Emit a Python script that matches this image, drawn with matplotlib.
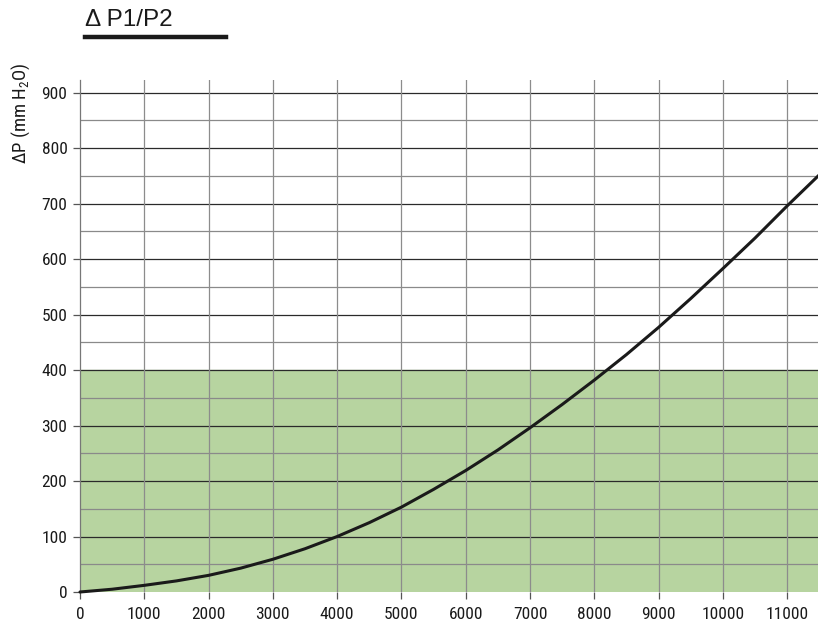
import matplotlib
matplotlib.use("Agg")
import matplotlib.pyplot as plt

# Datos
caudal = [0, 500, 1000, 1500, 2000, 2500, 3000, 3500, 4000, 4500, 5000, 5500, 6000,
          6500, 7000, 7500, 8000, 8500, 9000, 9500, 10000, 10500, 11000, 11500]
delta_p = [0, 5, 12, 20, 30, 43, 59, 78, 100, 125, 153, 185, 219,
           256, 296, 338, 382, 428, 477, 529, 583, 638, 696, 752]
zona_verde = 400
xticks = list(range(0, 12000, 1000))
yticks = list(range(0, 1000, 100))

fuente_ticks = ["Roboto Condensed", "DejaVu Sans"]
plt.rcParams["mathtext.fontset"] = "custom"
plt.rcParams["mathtext.rm"] = "Roboto Condensed"
plt.rcParams["mathtext.it"] = "Roboto Condensed"

fig = plt.figure(figsize=(8.18, 6.28), dpi=100)
ax = fig.add_axes([80 / 818, 1 - 592 / 628, 738 / 818, (592 - 80) / 628])

ax.set_xlim(0, 11480)
ax.set_ylim(0, 923)

# Zona verde
ax.axhspan(0, zona_verde, color="#b7d4a0", zorder=0)

# Grilla
for y in range(50, 950, 50):
    color = "#2a2a2a" if y % 100 == 0 else "#8a8a8a"
    ax.axhline(y, color=color, lw=0.9, zorder=1)
for x in xticks[1:]:
    ax.axvline(x, color="#8c8c8c", lw=0.9, zorder=1)

ax.plot(caudal, delta_p, color="#1a1a1a", lw=2.2, zorder=3, clip_on=False,
        solid_capstyle="round")

ax.set_xticks(xticks)
ax.set_yticks(yticks)
ax.set_xticklabels([str(v) for v in xticks], fontfamily=fuente_ticks, fontsize=12.5, color="#1a1a1a")
ax.set_yticklabels([str(v) for v in yticks], fontfamily=fuente_ticks, fontsize=12.5, color="#1a1a1a")
ax.tick_params(axis="both", direction="out", length=5, width=0.9, color="#555555")
ax.tick_params(axis="x", pad=6)
ax.tick_params(axis="y", pad=4)

for lado in ["top", "right", "bottom"]:
    ax.spines[lado].set_visible(False)
ax.spines["left"].set_color("#777777")
ax.spines["left"].set_linewidth(0.9)

# Titulo y etiqueta del eje
fig.text(85 / 818, 1 - 20 / 628, "\u0394 P1/P2", fontsize=17.5, fontfamily="Liberation Sans",
         ha="left", va="center", color="#1a1a1a")
fig.add_artist(plt.Line2D([85 / 818, 226 / 818], [1 - 37 / 628, 1 - 37 / 628],
                          color="#1a1a1a", lw=3.2))
fig.text(21 / 818, 1 - 113 / 628, "\u0394P (mm H$_2$O)", fontsize=13.5, fontfamily=fuente_ticks,
         rotation=90, ha="center", va="center", color="#1a1a1a")

fig.savefig("out.png", dpi=100)
